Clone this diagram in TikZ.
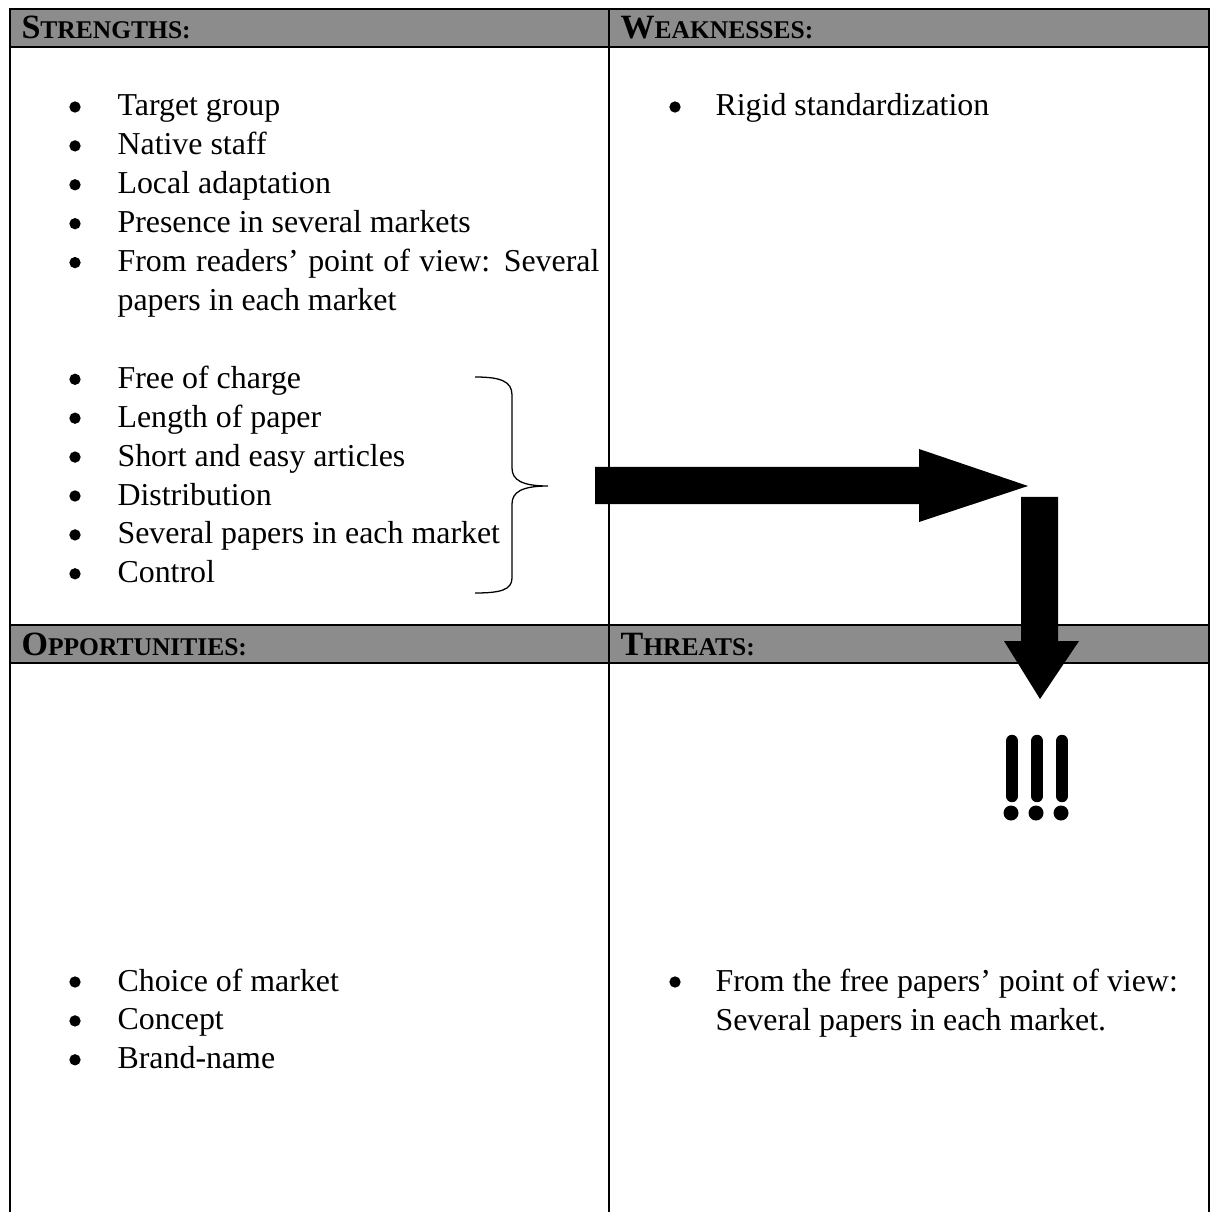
\documentclass[tikz,border=0pt]{standalone}
\usepackage{fontspec}
\setmainfont{Liberation Serif}
\newcommand{\smcap}[2]{#1{\fontsize{9}{10}\selectfont #2}}
\tikzset{
  px/.style={x=0.3528pt,y=-0.3528pt},
  rule/.style={line width=0.7pt},
  headband/.style={fill=black!45},
  headtext/.style={anchor=base west,inner sep=0pt,font=\fontsize{12}{14}\selectfont\bfseries},
  itemtext/.style={anchor=base west,inner sep=0pt,font=\fontsize{11.25}{14}\selectfont},
  itemdot/.style={circle,fill=black,inner sep=0pt,minimum size=4pt},
  blockarrow/.style={fill=black},
  bracket/.style={line width=0.45pt},
}
\begin{document}
\begin{tikzpicture}[px]
  \useasboundingbox (0,0) rectangle (1212,1212);
  % header bands and grid
  \fill[headband] (10,9) rectangle (1209,47);
  \fill[headband] (10,625) rectangle (1209,663);
  \draw[rule] (10,1212) -- (10,9) -- (1209,9) -- (1209,1212);
  \draw[rule] (10,47) -- (1209,47);
  \draw[rule] (10,625) -- (1209,625);
  \draw[rule] (10,663) -- (1209,663);
  \draw[rule] (609,9) -- (609,1212);
  % headings
  \node[headtext] (str) at (21,39) {\smcap{S}{TRENGTHS:}};
  \node[headtext] (weak) at (620,39) {\smcap{W}{EAKNESSES:}};
  \node[headtext] (opp) at (21,655) {\smcap{O}{PPORTUNITIES:}};
  \node[headtext] (thr) at (620,655) {\smcap{T}{HREATS:}};
  % strengths
  \foreach \k/\txt in {0/Target group, 1/Native staff, 2/Local adaptation,
      3/Presence in several markets, 7/Free of charge, 8/Length of paper,
      9/Short and easy articles, 10/Distribution,
      11/Several papers in each market, 12/Control} {
    \node[itemdot] (sd\k) at (75,107+38.9*\k) {};
    \node[itemtext] (s\k) at (117,116+38.9*\k) {\txt};
  }
  \node[itemdot] (sd4) at (75,107+38.9*4) {};
  \node[itemtext] (s4) at (117,116+38.9*4)
    {\makebox[170pt][s]{From readers’ point of view: Several}};
  \node[itemtext] (s5) at (117,116+38.9*5) {papers in each market};
  % weaknesses
  \node[itemdot] (wd0) at (675,107) {};
  \node[itemtext] (w0) at (715,116) {Rigid standardization};
  % opportunities
  \foreach \k/\txt in {0/Choice of market, 1/Concept, 2/Brand-name} {
    \node[itemdot] (od\k) at (75,982+38.9*\k) {};
    \node[itemtext] (o\k) at (117,991+38.9*\k) {\txt};
  }
  % threats
  \node[itemdot] (td0) at (675,982) {};
  \node[itemtext] (t0) at (715,991) {From the free papers’ point of view:};
  \node[itemtext] (t1) at (715,1030) {Several papers in each market.};
  % brace
  \draw[bracket] (475,377) .. controls (500,377) and (512,381) .. (512,395)
    -- (512,468) .. controls (512,480) and (522,486) .. (548,486)
    .. controls (522,486) and (512,492) .. (512,504)
    -- (512,578) .. controls (512,590) and (500,593) .. (475,593);
  % block arrows
  \fill[blockarrow] (595,467) -- (919,467) -- (919,449) -- (1028,486)
    -- (919,522) -- (919,504) -- (595,504) -- cycle;
  \fill[blockarrow] (1021,497) -- (1058,497) -- (1058,641) -- (1079,641)
    -- (1040,699) -- (1004,641) -- (1021,641) -- cycle;
  % exclamation marks
  \foreach \x in {1012,1037,1062} {
    \draw[line width=4.4pt,line cap=round] (\x,741) -- (\x,796);
    \fill (\x-1,813) circle (7.5);
  }
\end{tikzpicture}
\end{document}
